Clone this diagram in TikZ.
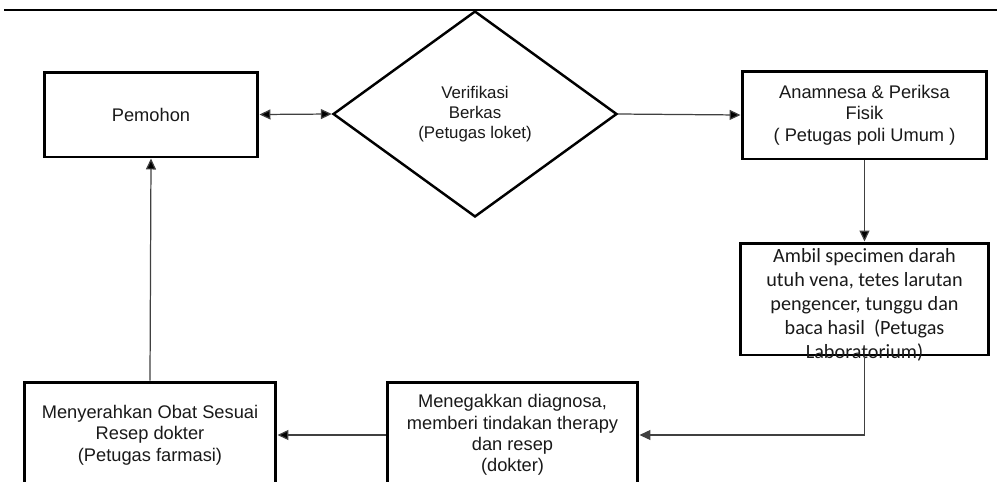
\documentclass[tikz,border=0pt]{standalone}
\usepackage{fontspec}
\setmainfont{Liberation Sans}
\newfontfamily\calibrifont{Carlito}
\usepackage{tikz}
\usetikzlibrary{arrows.meta,shapes.geometric}

\tikzset{
  stepbox/.style={draw, line width=1.7pt, inner sep=0pt, align=center, text=black!90,
    font=\fontsize{10.4}{12.2}\selectfont},
  decision/.style={diamond, draw, line width=1.4pt, inner sep=0pt, align=center, text=black!90,
    font=\fontsize{9.6}{11.3}\selectfont},
  conn/.style={line width=0.7pt, draw=black!75, >={Triangle[length=2.2mm,width=2mm]}}
}

\begin{document}
\begin{tikzpicture}[x=0.02cm,y=-0.02cm]
		\useasboundingbox (0,0) rectangle (997,481);
		\clip (0,0) rectangle (997,481);
		% header rule
		\draw[line width=1.1pt] (4,10) -- (997,10);
		%
		\node[stepbox, minimum width=4.28cm, minimum height=1.7cm] (pemohon) at (151,114.5) {Pemohon};
		\node[decision, minimum width=5.68cm, minimum height=4.12cm] (verif) at (475,114) {Verifikasi\\Berkas\\(Petugas loket)};
		\node[stepbox, minimum width=4.9cm, minimum height=1.76cm] (anam) at (864.5,115) {Anamnesa \& Periksa\\Fisik\\( Petugas poli Umum )};
		\node[stepbox, minimum width=4.98cm, minimum height=2.24cm] (ambil) at (864.5,299) {};
		\node[align=center, text=black!90, font=\calibrifont\fontsize{11.5}{13.6}\selectfont] (ambiltxt) at (864.5,305)
		{Ambil specimen darah\\utuh vena, tetes larutan\\pengencer, tunggu dan\\baca hasil~ (Petugas\\Laboratorium)};
		\node[stepbox, minimum width=5.02cm, minimum height=2.12cm] (menegak) at (512.5,435) {Menegakkan diagnosa,\\memberi tindakan therapy\\dan resep\\(dokter)};
		\node[stepbox, minimum width=5.04cm, minimum height=2.12cm] (menyerah) at (150,435) {Menyerahkan Obat Sesuai\\Resep dokter\\(Petugas farmasi)};
		%
		\path[conn]
		(pemohon.east) edge[<->] (verif.west)
		(verif.east) edge[->] (anam.west)
		(anam.south) edge[->] (ambil.north)
		(menegak.west) edge[->] (menyerah.east)
		(menyerah.north) edge[->] (pemohon.south);
		\draw[conn,->] (ambil.south) |- (menegak.east);
\end{tikzpicture}
\end{document}
